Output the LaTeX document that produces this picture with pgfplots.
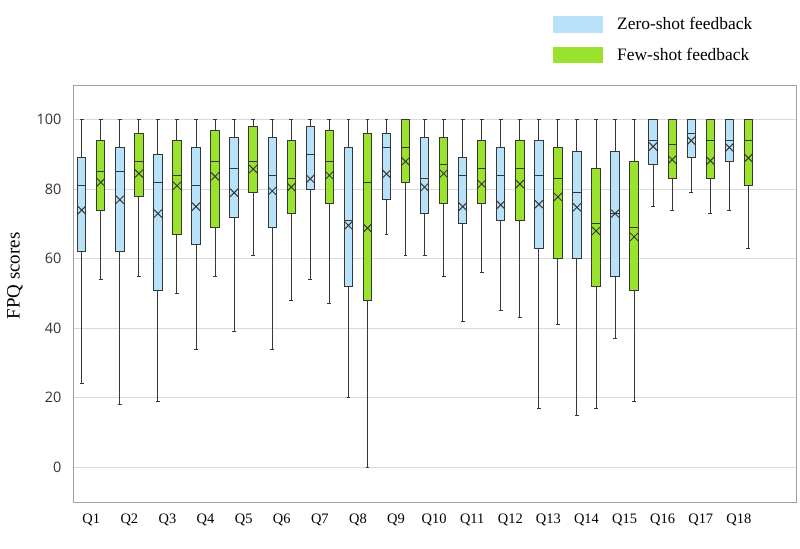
\documentclass[border=0pt]{standalone}
\usepackage{pgfplots}
\pgfplotsset{compat=1.18}
\usepgfplotslibrary{statistics}
\usepackage{fontspec}
\setmainfont{Liberation Serif}
\newfontfamily\tickfont{Open Sans}
\definecolor{zblue}{RGB}{183,226,250}
\definecolor{fgreen}{RGB}{155,226,45}
\definecolor{gridgray}{RGB}{217,217,217}
\definecolor{framegray}{RGB}{160,160,160}
\definecolor{boxline}{RGB}{55,55,55}
% #1 colour, #2 position, #3 lower whisker, #4 lower quartile, #5 median, #6 upper quartile, #7 upper whisker, #8 average
\newcommand\bp[8]{%
\addplot[boxplot prepared={draw position=#2, lower whisker=#3, lower quartile=#4, median=#5, upper quartile=#6, upper whisker=#7, average=#8}, fill=#1, draw=boxline, line width=1bp] coordinates {};}
\begin{document}
\begin{tikzpicture}
\useasboundingbox (0,0) rectangle (800bp,549bp);
\begin{axis}[
  at={(73bp,47bp)}, anchor=south west,
  scale only axis, width=723bp, height=417bp,
  xmin=0.52, xmax=19.5, ymin=-10, ymax=110,
  ytick={0,20,...,100},
  xtick={1,...,18},
  xticklabels={Q1,Q2,Q3,Q4,Q5,Q6,Q7,Q8,Q9,Q10,Q11,Q12,Q13,Q14,Q15,Q16,Q17,Q18},
  major tick length=0pt,
  ymajorgrids, grid style={gridgray, line width=0.8bp},
  axis line style={framegray, line width=0.8bp},
  /pgf/number format/assume math mode=true,
  yticklabel style={font=\tickfont\fontsize{14.5}{16}\selectfont, text=black!80, xshift=-8bp},
  xticklabel style={font=\fontsize{14.5}{16}\selectfont, yshift=-8bp},
  boxplot/draw direction=y,
  boxplot/box extend=0.22,
  boxplot/whisker extend=0.1,
  boxplot/every average/.style={/tikz/mark=x, /tikz/mark size=5.6bp, /tikz/mark options={draw=black, line width=1.2bp}},
]
\bp{zblue}{0.75}{24}{62}{81}{89}{100}{74}
\bp{fgreen}{1.25}{54}{74}{85}{94}{100}{82}
\bp{zblue}{1.75}{18}{62}{85}{92}{100}{77}
\bp{fgreen}{2.25}{55}{78}{88}{96}{100}{84.5}
\bp{zblue}{2.75}{19}{51}{82}{90}{100}{73}
\bp{fgreen}{3.25}{50}{67}{84}{94}{100}{81}
\bp{zblue}{3.75}{34}{64}{81}{92}{100}{75}
\bp{fgreen}{4.25}{55}{69}{88}{97}{100}{83.7}
\bp{zblue}{4.75}{39}{72}{86}{95}{100}{79}
\bp{fgreen}{5.25}{61}{79}{88}{98}{100}{85.8}
\bp{zblue}{5.75}{34}{69}{84}{95}{100}{79.5}
\bp{fgreen}{6.25}{48}{73}{83}{94}{100}{80.6}
\bp{zblue}{6.75}{54}{80}{90}{98}{100}{83}
\bp{fgreen}{7.25}{47}{76}{88}{97}{100}{84}
\bp{zblue}{7.75}{20}{52}{71}{92}{100}{69.6}
\bp{fgreen}{8.25}{0}{48}{82}{96}{100}{68.8}
\bp{zblue}{8.75}{67}{77}{92}{96}{100}{84.4}
\bp{fgreen}{9.25}{61}{82}{92}{100}{100}{88}
\bp{zblue}{9.75}{61}{73}{83}{95}{100}{80.6}
\bp{fgreen}{10.25}{55}{76}{87}{95}{100}{84.5}
\bp{zblue}{10.75}{42}{70}{84}{89}{100}{75}
\bp{fgreen}{11.25}{56}{76}{86}{94}{100}{81.5}
\bp{zblue}{11.75}{45}{71}{84}{92}{100}{75.5}
\bp{fgreen}{12.25}{43}{71}{86}{94}{100}{81.5}
\bp{zblue}{12.75}{17}{63}{84}{94}{100}{75.7}
\bp{fgreen}{13.25}{41}{60}{83}{92}{100}{77.8}
\bp{zblue}{13.75}{15}{60}{79}{91}{100}{74.8}
\bp{fgreen}{14.25}{17}{52}{70}{86}{100}{68}
\bp{zblue}{14.75}{37}{55}{73}{91}{100}{73}
\bp{fgreen}{15.25}{19}{51}{69}{88}{100}{66.3}
\bp{zblue}{15.75}{75}{87}{94}{100}{100}{92.3}
\bp{fgreen}{16.25}{74}{83}{93}{100}{100}{88.5}
\bp{zblue}{16.75}{79}{89}{96}{100}{100}{94}
\bp{fgreen}{17.25}{73}{83}{94}{100}{100}{88.2}
\bp{zblue}{17.75}{74}{88}{94}{100}{100}{92}
\bp{fgreen}{18.25}{63}{81}{94}{100}{100}{89}
\end{axis}
\node[rotate=90, font=\fontsize{19}{22}\selectfont] at (15bp,273bp) {FPQ scores};
\fill[zblue] (553bp,516bp) rectangle (603bp,533.3bp);
\fill[fgreen] (553bp,485.7bp) rectangle (603bp,502.3bp);
\node[anchor=base west, inner sep=0pt, font=\fontsize{17.5}{20}\selectfont] at (617bp,519.5bp) {Zero-shot feedback};
\node[anchor=base west, inner sep=0pt, font=\fontsize{17.5}{20}\selectfont] at (617bp,488.3bp) {Few-shot feedback};
\end{tikzpicture}
\end{document}
